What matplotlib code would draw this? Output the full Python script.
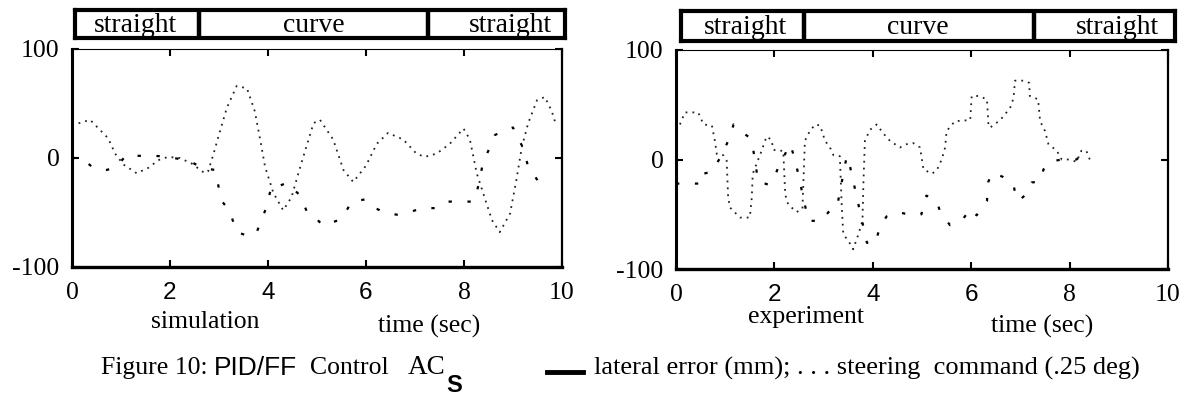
import matplotlib
matplotlib.use("Agg")
import matplotlib.pyplot as plt
from matplotlib.lines import Line2D

# ---- data ----
sections = ["straight", "curve", "straight"]
section_edges = [2.6, 7.27]

sim_steer_t = [0.0, 0.37, 0.74, 0.88, 1.05, 1.32, 1.56, 1.76, 1.96, 2.20,
               2.44, 2.71, 2.78, 2.89, 2.99, 3.16, 3.36, 3.57, 3.73, 3.84,
               3.94, 4.11, 4.31, 4.48, 4.62, 4.76, 4.93, 5.06, 5.33, 5.54,
               5.74, 6.00, 6.22, 6.45, 6.76, 7.03, 7.20, 7.44, 7.71, 7.99,
               8.12, 8.26, 8.39, 8.57, 8.73, 8.94, 9.07, 9.18, 9.31, 9.49,
               9.65, 9.79, 9.86]
sim_steer_v = [30, 35, 18, 4, -6, -14, -9, -2, 1, 0,
               -5, -14, -12, 4, 20, 46, 66, 64, 43, 17,
               -8, -32, -48, -36, -14, 7, 32, 35, 17, -11,
               -22, -7, 13, 23, 17, 4, 1, 4, 13, 27,
               17, -14, -32, -57, -68, -51, -20, 10, 32, 53,
               56, 43, 33]

sim_lat_t = [0.0, 0.2, 0.43, 0.7, 0.88, 1.12, 1.35, 1.7, 1.96, 2.2,
             2.45, 2.65, 2.92, 3.05, 3.22, 3.36, 3.63, 3.77, 3.97, 4.07,
             4.14, 4.38, 4.65, 4.82, 4.99, 5.13, 5.5, 5.71, 5.98, 6.15,
             6.37, 6.63, 6.87, 7.14, 7.41, 7.65, 7.92, 8.19, 8.26, 8.39,
             8.53, 8.63, 8.8, 9.0, 9.1, 9.2, 9.31, 9.54, 9.71]
sim_lat_v = [0, 0, -9, -11, -9, 3, 2, 2, 1, -1,
             -4, -9, -11, -39, -49, -68, -72, -68, -45, -26,
             -27, -23, -34, -52, -56, -62, -56, -40, -38, -45,
             -50, -52, -50, -46, -46, -40, -40, -40, -32, -4,
             10, 21, 25, 28, 18, 10, -8, -23, -25]

exp_steer_t = [0.08, 0.18, 0.45, 0.56, 0.73, 0.79, 0.83, 0.96, 1.03, 1.06,
               1.10, 1.30, 1.50, 1.54, 1.56, 1.74, 1.84, 1.94, 1.98, 2.05,
               2.18, 2.22, 2.28, 2.45, 2.57, 2.59, 2.62, 2.72, 2.83, 2.93,
               3.03, 3.13, 3.20, 3.33, 3.37, 3.40, 3.54, 3.60, 3.71, 3.79,
               3.81, 3.84, 3.94, 4.08, 4.21, 4.35, 4.55, 4.69, 4.82, 4.96,
               5.03, 5.20, 5.30, 5.40, 5.47, 5.50, 5.67, 5.98, 6.01, 6.15,
               6.32, 6.35, 6.38, 6.59, 6.79, 6.86, 6.89, 7.06, 7.18, 7.19,
               7.36, 7.40, 7.50, 7.57, 7.74, 7.84, 7.97, 8.14, 8.24, 8.34,
               8.41]
exp_steer_v = [32, 43, 43, 32, 31, 17, 5, 4, -1, -35,
               -44, -53, -53, -35, -13, 8, 21, 18, 9, 8,
               8, -32, -41, -48, -45, -20, 17, 26, 32, 31,
               17, 11, 4, 3, -44, -68, -77, -82, -68, -56,
               -20, 17, 27, 32, 24, 17, 11, 14, 15, 11,
               -9, -13, -10, 0, 11, 26, 35, 36, 58, 58,
               55, 32, 29, 36, 47, 56, 72, 72, 70, 58,
               55, 35, 26, 14, 8, 0, 0, -2, 8, 8,
               0]

exp_lat_t = [0.0, 0.55, 0.56, 0.73, 0.93, 1.10, 1.17, 1.37, 1.50, 1.57,
             1.67, 1.88, 2.01, 2.08, 2.32, 2.42, 2.69, 2.96, 3.10, 3.27,
             3.47, 3.54, 3.88, 4.05, 4.11, 4.15, 4.28, 4.52, 4.79, 4.99,
             5.03, 5.09, 5.30, 5.37, 5.57, 5.84, 5.98, 6.11, 6.21, 6.32,
             6.35, 6.44, 6.65, 6.86, 6.89, 6.96, 7.16, 7.23, 7.40, 7.47,
             7.60, 7.84, 8.14, 8.24]
exp_lat_v = [-22, -22, -13, -11, 4, 21, 32, 24, 20, 9,
             -20, -23, -15, -7, 14, 0, -56, -56, -48, -44,
             3, -7, -76, -77, -67, -61, -52, -48, -51, -50,
             -40, -33, -38, -48, -60, -54, -45, -51, -45, -38,
             -20, -12, -16, -23, -30, -38, -30, -21, -20, -9,
             -2, 0, 0, 4]

x_ticks = [0, 2, 4, 6, 8, 10]
x_tick_fonts = ["Liberation Serif", "Liberation Sans", "Liberation Sans",
                "Liberation Sans", "Liberation Serif", "Liberation Serif"]
y_ticks = [-100, 0, 100]

W, H = 1189, 398
SERIF = "Liberation Serif"
SANS = "Liberation Sans"

fig = plt.figure(figsize=(W / 100, H / 100), dpi=100)
fig.patch.set_facecolor("white")


def box(x0, y0, x1, y1):
    # pixel box -> figure rect
    return [x0 / W, 1 - y1 / H, (x1 - x0) / W, (y1 - y0) / H]


def panel(rect, steer_t, steer_v, lat_t, lat_v):
    ax = fig.add_axes(rect)
    ax.plot(steer_t, steer_v, color="#222222", lw=1.3, linestyle=(0, (1, 2.8)))
    ax.plot(lat_t, lat_v, color="black", lw=1.6, linestyle=(0, (1.5, 7)))
    ax.set_xlim(0, 10)
    ax.set_ylim(-100, 100)
    ax.set_xticks(x_ticks)
    ax.set_yticks(y_ticks)
    ax.set_xticklabels([str(v) for v in x_ticks])
    ax.set_yticklabels([str(v) for v in y_ticks], family=SERIF, fontsize=18.5)
    for lab, fam in zip(ax.get_xticklabels(), x_tick_fonts):
        lab.set_family(fam)
        lab.set_fontsize(18.5 if fam == SERIF else 17.5)
    ax.tick_params(axis="both", direction="in", length=5, width=1.5,
                   top=True, right=True)
    ax.tick_params(axis="x", pad=11)
    ax.tick_params(axis="y", pad=9)
    ax.spines["left"].set_linewidth(2.2)
    ax.spines["bottom"].set_linewidth(2.4)
    ax.spines["right"].set_linewidth(1.6)
    ax.spines["top"].set_linewidth(0.8)
    return ax


def header(rect, xlim, label_x):
    hx = fig.add_axes(rect)
    hx.set_xlim(*xlim)
    hx.set_ylim(0, 1)
    hx.set_xticks([])
    hx.set_yticks([])
    for s in hx.spines.values():
        s.set_linewidth(3)
    for e in section_edges:
        hx.axvline(e, color="black", lw=3.2)
    for name, xc in zip(sections, label_x):
        hx.text(xc, 0.45, name, ha="center", va="center",
                family=SERIF, fontsize=20)
    return hx


ax1 = panel(box(72, 49, 562, 267), sim_steer_t, sim_steer_v, sim_lat_t, sim_lat_v)
ax2 = panel(box(676, 50, 1168, 269), exp_steer_t, exp_steer_v, exp_lat_t, exp_lat_v)

header(box(75, 10, 565, 38), (0.06, 10.06), [1.3, 4.93, 8.95])
header(box(681, 11, 1175, 41), (0.1, 10.14), [1.4, 4.92, 8.96])

# axis labels under the panels
fig.text(205 / W, 1 - 322 / H, "simulation", ha="center", va="center",
         family=SERIF, fontsize=18.5)
fig.text(429 / W, 1 - 326 / H, "time (sec)", ha="center", va="center",
         family=SERIF, fontsize=18.5)
fig.text(806 / W, 1 - 317 / H, "experiment", ha="center", va="center",
         family=SERIF, fontsize=18.5)
fig.text(1042 / W, 1 - 326 / H, "time (sec)", ha="center", va="center",
         family=SERIF, fontsize=18.5)

# caption
cy = 1 - 368 / H
fig.text(101 / W, cy, "Figure 10:", ha="left", va="center", family=SERIF, fontsize=18.5)
fig.text(214 / W, cy, "PID/FF", ha="left", va="center", family=SANS, fontsize=19)
fig.text(310 / W, cy, "Control", ha="left", va="center", family=SERIF, fontsize=18.5)
fig.text(408 / W, cy, "AC", ha="left", va="center", family=SERIF, fontsize=19.5)
fig.text(446 / W, 1 - 386 / H, "S", ha="left", va="center", family=SANS,
         fontsize=17, fontweight="bold")
fig.add_artist(Line2D([547 / W, 583 / W], [1 - 372 / H, 1 - 372 / H],
                      color="black", lw=3.5, transform=fig.transFigure))
fig.text(594 / W, cy, "lateral error (mm); . . . steering  command (.25 deg)",
         ha="left", va="center", family=SERIF, fontsize=19)

fig.savefig("out.png", dpi=100, facecolor="white")
